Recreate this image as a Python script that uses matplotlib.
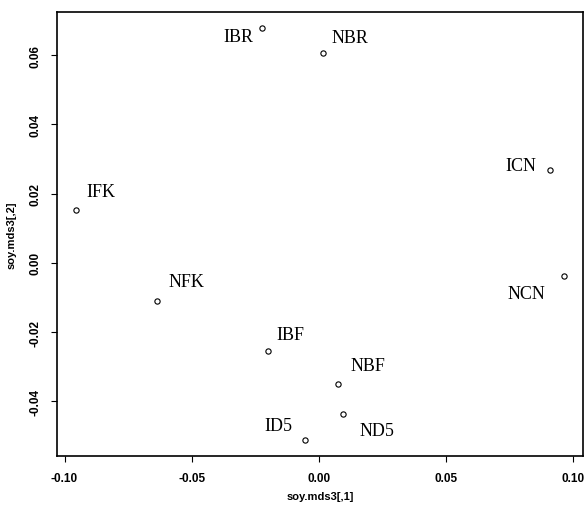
import matplotlib.pyplot as plt

# MDS coordinates
names = ['IBR', 'NBR', 'ICN', 'IFK', 'NCN', 'NFK', 'IBF', 'NBF', 'ND5', 'ID5']
dim1 = [-0.0224, 0.0017, 0.0909, -0.0953, 0.0961, -0.0635, -0.0200, 0.0076, 0.0094, -0.0055]
dim2 = [0.0677, 0.0607, 0.0269, 0.0154, -0.0037, -0.0111, -0.0254, -0.0349, -0.0435, -0.0510]

xticks = [-0.10, -0.05, 0.00, 0.05, 0.10]
yticks = [-0.04, -0.02, 0.00, 0.02, 0.04, 0.06]

# label offsets in points (dx, dy, horizontal alignment)
offsets = {
    'IBR': (-6, -6, 'right'),
    'NBR': (6, 11, 'left'),
    'ICN': (-10, 3, 'right'),
    'IFK': (7, 13, 'left'),
    'NCN': (-13, -13, 'right'),
    'NFK': (8, 14, 'left'),
    'IBF': (6, 12, 'left'),
    'NBF': (9, 13, 'left'),
    'ND5': (12, -12, 'left'),
    'ID5': (-9, 10, 'right'),
}


def r_limits(vals, frac=0.04):
    lo, hi = min(vals), max(vals)
    pad = (hi - lo) * frac
    return lo - pad, hi + pad


fig = plt.figure(figsize=(5.87, 5.10), dpi=100)
ax = fig.add_axes([0.0971, 0.1039, 0.8961, 0.8706])

ax.plot(dim1, dim2, 'o', mfc='none', mec='black', ms=3.8, mew=0.8)

for n, x, y in zip(names, dim1, dim2):
    dx, dy, ha = offsets[n]
    ax.annotate(n, (x, y), xytext=(dx, dy), textcoords='offset points',
                ha=ha, va='center', fontsize=13, family='Liberation Serif')

ax.set_xlim(*r_limits(dim1))
ax.set_ylim(*r_limits(dim2))
ax.set_xticks(xticks)
ax.set_xticklabels(['%.2f' % t for t in xticks])
ax.set_yticks(yticks)
ax.set_yticklabels(['%.2f' % t for t in yticks], rotation=90, va='center')

for lab in ax.get_xticklabels() + ax.get_yticklabels():
    lab.set_family('Liberation Sans')
    lab.set_fontsize(8.5)
    lab.set_fontweight('bold')

ax.tick_params(direction='out', length=4.5, width=0.8, pad=7)
for s in ax.spines.values():
    s.set_linewidth(1.2)

ax.set_xlabel('soy.mds3[,1]', family='Liberation Sans', fontsize=8, fontweight='bold', labelpad=5)
ax.set_ylabel('soy.mds3[,2]', family='Liberation Sans', fontsize=8, fontweight='bold', labelpad=9)

plt.savefig('out.png', dpi=100)
